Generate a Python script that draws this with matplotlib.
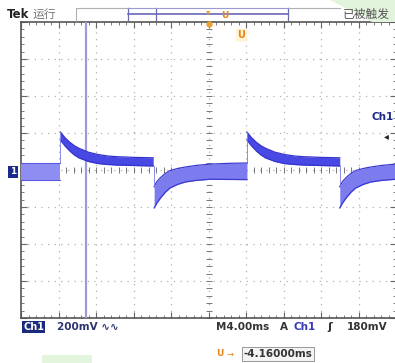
import numpy as np
import matplotlib.pyplot as plt
from matplotlib.patches import Rectangle, Polygon

plt.rcParams['font.family'] = ['DejaVu Sans', 'Noto Sans CJK SC']

# Waveform data (time in ms, level in mV)
rise_times = [4.2, 24.1]
fall_times = [14.2, 34.0]

# shape after a rising edge (offset from the edge, band top / bottom)
up_dt = [0, 0.5, 1, 1.5, 2, 3, 4, 5, 6, 8, 9.9]
up_top = [205, 174, 150, 131, 117, 96, 84, 76, 72, 68, 66]
up_bot = [162, 130, 103, 81, 65, 46, 35, 30, 27, 24, 22]

# shape after a falling edge
dn_dt = [0, 0.3, 0.7, 1.2, 1.7, 2.5, 3.3, 4.5, 6, 8, 9.9]
dn_top = [-90, -62, -40, -18, -3, 8, 16, 25, 32, 36, 38]
dn_bot = [-205, -178, -150, -120, -97, -78, -65, -56, -50, -51, -52]

# flat band before the first edge
pre_t = [0, 4.2]
pre_top = [38, 38]
pre_bot = [-54, -54]

cursor_t = 6.93

W, H = 395, 363


def px(x, y):
    return x / W, 1 - y / H


fig = plt.figure(figsize=(W / 100, H / 100), dpi=100)
fig.patch.set_facecolor('white')
ax = fig.add_axes([21 / W, 45 / H, 375 / W, 296 / H])
ax.set_xlim(0, 40)
ax.set_ylim(-800, 800)

# graticule
for s in ax.spines.values():
    s.set_color('#555555')
    s.set_linewidth(1.2)
ax.set_xticks(np.arange(0, 41, 4))
ax.set_yticks(np.arange(-800, 801, 200))
ax.set_xticks(np.arange(0, 40.1, 0.8), minor=True)
ax.set_yticks(np.arange(-800, 801, 40), minor=True)
ax.tick_params(which='both', direction='in', labelbottom=False, labelleft=False,
               top=True, right=True, color='#666666')
ax.tick_params(which='major', length=4, width=0.8)
ax.tick_params(which='minor', length=2.5, width=0.6)
for x in np.arange(4, 40, 4):
    ax.axvline(x, color='#b0b0b0', lw=0.9, ls=(0, (1, 4.3)), zorder=1)
for y in np.arange(-600, 601, 200):
    ax.axhline(y, color='#b0b0b0', lw=0.9, ls=(0, (1, 4.3)), zorder=1)
# centre cross with small ruler marks
ax.plot(np.arange(0, 40.1, 0.8), np.zeros(51), ls='none', marker='|',
        ms=4, mew=0.7, color='#777777', zorder=2)
ax.plot(np.full(41, 20.0), np.arange(-800, 801, 40), ls='none', marker='_',
        ms=4, mew=0.7, color='#777777', zorder=2)

# cursor line
ax.axvline(cursor_t, color='#9c9cd6', lw=1.6, zorder=3)

# waveform
ax.fill_between(pre_t, pre_bot, pre_top, color='#8e8ef2', lw=0, zorder=4)
ax.plot(pre_t, pre_top, color='#5a5ae0', lw=0.8, zorder=5)
ax.plot(pre_t, pre_bot, color='#5a5ae0', lw=0.8, zorder=5)

for r in rise_times:
    t = r + np.array(up_dt)
    ax.fill_between(t, up_bot, up_top, color='#4848e4', lw=0, zorder=4)
    ax.plot(t, up_top, color='#3434cc', lw=0.9, zorder=5)
    ax.plot(t, up_bot, color='#3434cc', lw=0.9, zorder=5)
    ax.plot([r, r], [dn_top[-1], up_top[0]], color='#7a7ae8', lw=0.6, zorder=5)

for f in fall_times:
    t = f + np.array(dn_dt)
    ax.fill_between(t, dn_bot, dn_top, color='#7c7cee', lw=0, zorder=4)
    ax.plot(t, dn_top, color='#3a3ad2', lw=0.9, zorder=5)
    ax.plot(t, dn_bot, color='#3a3ad2', lw=0.9, zorder=5)
    ax.plot([f, f], [up_bot[-1], dn_top[0]], color='#7a7ae8', lw=0.6, zorder=5)

# trigger marker inside the screen
ax.text(23.5, 730, 'U', color='#e8841a', fontsize=7, fontweight='bold',
        ha='center', va='center', zorder=6,
        bbox=dict(boxstyle='round,pad=0.15', fc='#fff3d0', ec='none'))
ax.plot([20], [790], marker='o', ms=3.5, color='#e8a030', zorder=6, clip_on=False)

# top status bar
fig.patches.append(Polygon([px(330, 0), px(395, 0), px(395, 22), px(372, 22)],
                           closed=True, fc='#e2f4db', ec='none',
                           transform=fig.transFigure))
fig.text(*px(7, 14), 'Tek', fontsize=8.5, fontweight='bold', color='#222222',
         va='center', family=['DejaVu Sans'])
fig.text(*px(33, 14), '运行', fontsize=8.5, color='#777777', va='center',
         family=['Noto Sans CJK SC', 'DejaVu Sans'])
fig.lines.append(plt.Line2D([76 / W, 76 / W, 128 / W], [1 - 21 / H, 1 - 8 / H, 1 - 8 / H],
                            color='#b0b0b0', lw=0.8, transform=fig.transFigure))
fig.lines.append(plt.Line2D([288 / W, 340 / W], [1 - 8 / H, 1 - 8 / H],
                            color='#b0b0b0', lw=0.8, transform=fig.transFigure))
for xb in (128, 156, 288):
    fig.lines.append(plt.Line2D([xb / W, xb / W], [1 - 8 / H, 1 - 20 / H],
                                color='#6a6ab8', lw=0.9, transform=fig.transFigure))
fig.lines.append(plt.Line2D([128 / W, 288 / W], [1 - 14 / H, 1 - 14 / H],
                            color='#6a6ab8', lw=1.2, transform=fig.transFigure))
fig.lines.append(plt.Line2D([128 / W, 288 / W], [1 - 8 / H, 1 - 8 / H],
                            color='#9a9ad0', lw=0.8, transform=fig.transFigure))
fig.text(*px(208, 12), '▾', fontsize=6, color='#e8a030', ha='center', va='center')
fig.text(*px(225, 15), 'U', fontsize=6.5, fontweight='bold', color='#e8841a',
         ha='center', va='center')
fig.text(*px(343, 14), '已被触发', fontsize=8.5, color='#555555', va='center',
         family=['Noto Sans CJK SC', 'DejaVu Sans'])

# channel markers
fig.text(*px(13, 172), '1', fontsize=6.5, fontweight='bold', color='white',
         ha='center', va='center',
         bbox=dict(boxstyle='square,pad=0.2', fc='#1c2a8c', ec='none'))
fig.text(*px(372, 117), 'Ch1', fontsize=7.5, fontweight='bold', color='#1c2a8c',
         va='center')
fig.text(*px(386, 136), '◂', fontsize=7, color='#222222', ha='center', va='center')

# bottom readouts
fig.text(*px(23, 327), 'Ch1', fontsize=7, fontweight='bold', color='white',
         va='center',
         bbox=dict(boxstyle='square,pad=0.15', fc='#1c2a7c', ec='none'))
fig.text(*px(57, 327), '200mV ∿∿', fontsize=7.5, fontweight='bold', color='#2c3470',
         va='center')
fig.text(*px(216, 327), 'M4.00ms', fontsize=7.5, fontweight='bold', color='#333333',
         va='center')
fig.text(*px(280, 327), 'A', fontsize=7.5, fontweight='bold', color='#333333',
         va='center')
fig.text(*px(294, 327), 'Ch1', fontsize=7.5, fontweight='bold', color='#3a3ab4',
         va='center')
fig.text(*px(327, 327), 'ʃ', fontsize=8, fontweight='bold', color='#333333',
         va='center')
fig.text(*px(347, 327), '180mV', fontsize=7.5, fontweight='bold', color='#333333',
         va='center')

fig.text(*px(216, 354), 'U', fontsize=6.5, fontweight='bold', color='#e8841a',
         va='center')
fig.text(*px(226, 354), '→', fontsize=6, color='#e8841a', va='center')
fig.text(*px(244, 354), '-4.16000ms', fontsize=7.5, fontweight='bold', color='#333333',
         va='center',
         bbox=dict(boxstyle='square,pad=0.15', fc='#f4f4f4', ec='#888888', lw=0.6))
fig.patches.append(Rectangle(px(42, 363), 50 / W, 8 / H, fc='#e3f5dc', ec='none',
                             transform=fig.transFigure))

fig.savefig('out.png', dpi=100, facecolor='white')
